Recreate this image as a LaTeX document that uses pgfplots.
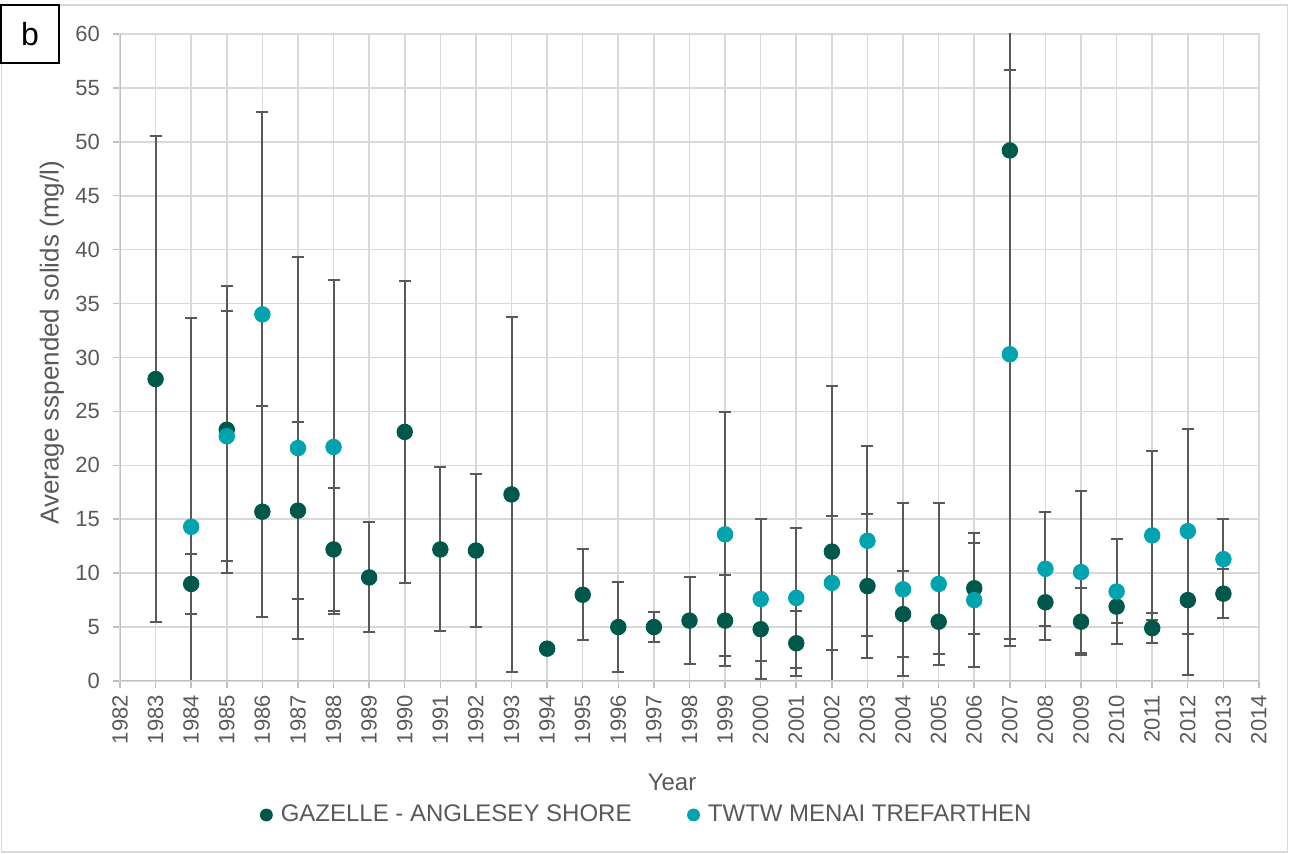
\documentclass[border=0pt]{standalone}
\usepackage{fontspec}
\setmainfont{Liberation Sans}
\usepackage{pgfplots}
\usepackage{pgfplotstable}
\pgfplotsset{compat=1.18}
\definecolor{gaz}{HTML}{00584A}
\definecolor{twtw}{HTML}{00A3AE}
\definecolor{txt}{HTML}{595959}
\definecolor{gridc}{HTML}{D9D9D9}
\definecolor{axl}{HTML}{BFBFBF}
\definecolor{ebar}{HTML}{595959}

\pgfplotstableread{
x y e
1983 28.0 22.5
1984 9.0 2.8
1985 23.3 13.3
1986 15.7 9.8
1987 15.8 8.2
1988 12.2 5.7
1989 9.6 5.1
1990 23.1 14.0
1991 12.2 7.6
1992 12.1 7.1
1993 17.3 16.5
1994 3.0 0
1995 8.0 4.2
1996 5.0 4.2
1997 5.0 1.4
1998 5.6 4.0
1999 5.6 4.2
2000 4.8 2.9
2001 3.5 3.0
2002 12.0 15.4
2003 8.8 6.7
2004 6.2 4.0
2005 5.5 3.0
2006 8.6 4.2
2007 49.2 46.0
2008 7.3 3.5
2009 5.5 3.1
2010 6.9 1.5
2011 4.9 1.4
2012 7.5 6.9
2013 8.1 2.3
}\gazdata

\pgfplotstableread{
x y e
1984 14.3 19.4
1985 22.7 11.6
1986 34.0 18.8
1987 21.6 17.7
1988 21.7 15.5
1999 13.6 11.3
2000 7.6 7.4
2001 7.7 6.5
2002 9.1 6.2
2003 13.0 8.8
2004 8.5 8.0
2005 9.0 7.5
2006 7.5 6.2
2007 30.3 26.4
2008 10.4 5.3
2009 10.1 7.5
2010 8.3 4.9
2011 13.5 7.8
2012 13.9 9.5
2013 11.3 3.7
}\twdata

\begin{document}
\begin{tikzpicture}[x=1pt,y=1pt]
\useasboundingbox (0,0) rectangle (644.5,427);
\draw[gridc, line width=0.75pt] (0.75,1) rectangle (643.75,424.5);
\begin{axis}[
  at={(60pt,86.5pt)}, anchor=south west,
  scale only axis, width=569.5pt, height=323.5pt,
  xmin=1982, xmax=2014, ymin=0, ymax=60,
  xtick={1982,...,2014}, ytick={0,5,...,60},
  grid=major, major grid style={gridc, line width=0.8pt},
  axis line style={gridc, line width=0.8pt},
  tick align=outside, major tick length=3.5pt,
  tick style={axl, line width=0.75pt},
  tick pos=left,
  /pgf/number format/assume math mode=true,
  /pgf/number format/1000 sep={},
  x tick label style={rotate=90, anchor=east, font=\fontsize{11}{13}\selectfont, text=txt},
  y tick label style={font=\fontsize{11}{13}\selectfont, text=txt},
  yticklabel shift=3pt,
  clip=true,
  legend columns=2,
  legend style={draw=none, fill=none, font=\fontsize{12}{14}\selectfont, text=txt,
    at={(0.4635,-0.2071)}, anchor=center,
    /tikz/every even column/.append style={column sep=26pt}},
  legend image code/.code={\draw[#1, mark size=3pt] plot coordinates {(0pt,0pt)}; \path (5pt,0pt);},
]
% error bars first (behind all markers)
\addplot[only marks, mark=none, forget plot,
  error bars/.cd, y dir=both, y explicit,
  error bar style={draw=ebar, line width=1pt},
  error mark options={draw=ebar, rotate=90, mark size=3pt, line width=1pt}]
  table[x=x, y=y, y error=e]{\gazdata};
\addplot[only marks, mark=none, forget plot,
  error bars/.cd, y dir=both, y explicit,
  error bar style={draw=ebar, line width=1pt},
  error mark options={draw=ebar, rotate=90, mark size=3pt, line width=1pt}]
  table[x=x, y=y, y error=e]{\twdata};
% markers
\addplot[only marks, mark=*, mark size=3.9pt, mark options={draw=gaz, fill=gaz}]
  table[x=x, y=y]{\gazdata};
\addlegendentry{GAZELLE - ANGLESEY SHORE}
\addplot[only marks, mark=*, mark size=3.9pt, mark options={draw=twtw, fill=twtw}]
  table[x=x, y=y]{\twdata};
\addlegendentry{TWTW MENAI TREFARTHEN}
\draw[axl, line width=0.8pt] (rel axis cs:0,1) -- (rel axis cs:0,0) -- (rel axis cs:1,0);
\end{axis}
\node[rotate=90, text=txt, font=\fontsize{13}{15}\selectfont] at (26,255.5) {Average sspended solids (mg/l)};
\node[text=txt, font=\fontsize{12}{14}\selectfont] at (336,36) {Year};
\draw[black, line width=0.6pt, fill=white] (0.5,395.5) rectangle (29.5,424.5);
\node[font=\fontsize{16}{18}\selectfont] at (15,410) {b};
\end{tikzpicture}
\end{document}
